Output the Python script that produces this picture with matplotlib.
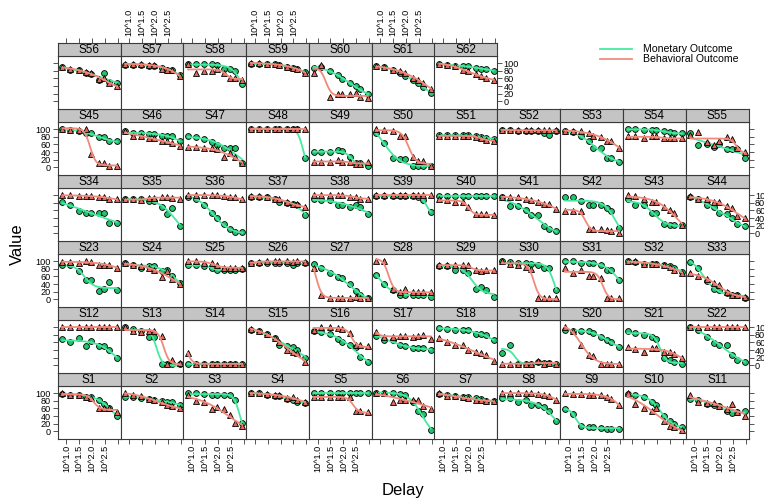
import numpy as np
import matplotlib
matplotlib.use('Agg')
import matplotlib.pyplot as plt
from matplotlib.lines import Line2D

plt.rcParams['font.family'] = ['Liberation Sans', 'DejaVu Sans']

# delays (days) at which each subject was asked
delay_days = [7, 14, 30, 60, 90, 180, 300, 450, 900]
subjects = ['S%d' % i for i in range(1, 63)]

x_ticks = [1.0, 1.5, 2.0, 2.5, 3.0]
x_ticklabels = ['10^1.0', '10^1.5', '10^2.0', '10^2.5', '']
y_ticks = [0, 20, 40, 60, 80, 100]

# monetary outcome (green circles)
money = {
    'S1': [98, 96, 96, 91, 91, 82, 72, 61, 41],
    'S2': [91, 89, 88, 85, 82, 79, 78, 76, 69],
    'S3': [100, 100, 98, 94, 96, 96, 94, 81, 21],
    'S4': [100, 100, 96, 92, 92, 85, 82, 76, 74],
    'S5': [100, 100, 100, 100, 100, 100, 100, 100, 100],
    'S6': [100, 100, 100, 98, 96, 76, 53, 46, 4],
    'S7': [98, 96, 92, 90, 89, 88, 86, 80, 79],
    'S8': [88, 88, 76, 82, 69, 68, 63, 53, 26],
    'S9': [59, 46, 15, 12, 11, 9, 6, 6, 6],
    'S10': [98, 94, 91, 76, 70, 39, 26, 19, 11],
    'S11': [85, 83, 72, 69, 67, 54, 48, 50, 53],
    'S12': [68, 62, 72, 50, 63, 50, 50, 40, 19],
    'S13': [100, 96, 89, 75, 75, 2, 2, 2, 2],
    'S14': [4, 2, 2, 2, 2, 2, 2, 2, 2],
    'S15': [93, 89, 82, 72, 54, 50, 47, 40, 19],
    'S16': [89, 87, 81, 69, 61, 52, 47, 21, 8],
    'S17': [78, 67, 65, 52, 50, 45, 45, 45, 40],
    'S18': [98, 96, 93, 93, 93, 82, 82, 80, 65],
    'S19': [32, 52, 4, 2, 2, 8, 5, 6, 2],
    'S20': [93, 91, 89, 89, 85, 74, 65, 61, 49],
    'S21': [89, 85, 80, 74, 69, 19, 14, 8, 2],
    'S22': [100, 93, 75, 58, 52, 54, 28, 15, 8],
    'S23': [89, 89, 75, 50, 50, 21, 26, 44, 25],
    'S24': [94, 91, 83, 87, 87, 74, 78, 61, 43],
    'S25': [89, 89, 87, 83, 76, 76, 76, 76, 80],
    'S26': [94, 94, 94, 96, 96, 94, 90, 94, 94],
    'S27': [92, 81, 69, 59, 57, 39, 21, 12, 4],
    'S28': [63, 39, 24, 11, 11, 12, 11, 11, 6],
    'S29': [88, 88, 76, 78, 69, 26, 32, 25, 6],
    'S30': [100, 98, 96, 94, 92, 89, 83, 81, 25],
    'S31': [100, 100, 94, 96, 96, 91, 76, 78, 50],
    'S32': [100, 98, 92, 92, 92, 90, 88, 82, 72],
    'S33': [98, 83, 47, 26, 24, 17, 11, 11, 4],
    'S34': [81, 75, 59, 52, 52, 52, 52, 27, 27],
    'S35': [91, 89, 89, 84, 84, 69, 50, 65, 18],
    'S36': [96, 91, 75, 52, 39, 23, 10, 4, 2],
    'S37': [96, 94, 94, 89, 82, 80, 76, 74, 49],
    'S38': [89, 87, 87, 75, 75, 69, 74, 68, 50],
    'S39': [98, 98, 98, 98, 98, 97, 96, 87, 56],
    'S40': [98, 98, 98, 98, 98, 98, 98, 98, 98],
    'S41': [96, 71, 72, 62, 49, 47, 18, 12, 6],
    'S42': [96, 94, 84, 75, 75, 75, 67, 58, 15],
    'S43': [89, 75, 75, 52, 52, 25, 21, 21, 21],
    'S44': [96, 89, 75, 68, 52, 50, 39, 25, 18],
    'S45': [100, 98, 95, 89, 89, 79, 79, 68, 68],
    'S46': [94, 89, 89, 87, 87, 83, 83, 81, 68],
    'S47': [81, 79, 75, 65, 58, 50, 50, 50, 10],
    'S48': [100, 100, 100, 100, 100, 100, 100, 100, 24],
    'S49': [39, 39, 39, 44, 43, 26, 11, 11, 4],
    'S50': [89, 63, 24, 22, 22, 2, 2, 2, 2],
    'S51': [84, 84, 84, 84, 84, 82, 80, 78, 75],
    'S52': [97, 97, 96, 96, 96, 94, 89, 85, 96],
    'S53': [94, 92, 83, 68, 50, 50, 24, 24, 15],
    'S54': [100, 100, 98, 98, 98, 94, 92, 89, 89],
    'S55': [89, 59, 61, 52, 62, 48, 48, 48, 24],
    'S56': [90, 82, 82, 73, 71, 57, 75, 50, 48],
    'S57': [95, 95, 95, 93, 93, 88, 83, 83, 68],
    'S58': [97, 97, 97, 97, 96, 86, 86, 79, 44],
    'S59': [98, 98, 97, 97, 94, 90, 88, 86, 76],
    'S60': [88, 90, 79, 68, 58, 48, 39, 31, 18],
    'S61': [92, 89, 82, 75, 66, 57, 48, 38, 22],
    'S62': [99, 95, 92, 92, 92, 88, 86, 86, 79],
}

# behavioral outcome (red triangles)
behav = {
    'S1': [100, 96, 96, 91, 87, 61, 61, 61, 50],
    'S2': [100, 96, 92, 85, 82, 76, 68, 65, 61],
    'S3': [96, 79, 76, 59, 63, 59, 43, 21, 15],
    'S4': [100, 100, 98, 94, 94, 88, 91, 82, 76],
    'S5': [89, 89, 89, 89, 89, 89, 53, 53, 51],
    'S6': [100, 100, 76, 82, 81, 82, 82, 66, 59],
    'S7': [100, 92, 92, 89, 87, 82, 82, 79, 79],
    'S8': [100, 100, 100, 100, 100, 99, 95, 93, 83],
    'S9': [100, 98, 98, 96, 96, 94, 91, 85, 68],
    'S10': [100, 72, 61, 54, 61, 26, 15, 12, 2],
    'S11': [96, 78, 74, 74, 65, 59, 72, 50, 41],
    'S12': [100, 100, 100, 100, 100, 100, 100, 100, 100],
    'S13': [100, 89, 87, 89, 89, 78, 4, 14, 6],
    'S14': [32, 4, 4, 4, 4, 4, 4, 4, 4],
    'S15': [96, 89, 82, 71, 61, 39, 34, 32, 8],
    'S16': [93, 100, 100, 98, 96, 84, 52, 52, 50],
    'S17': [87, 75, 75, 78, 78, 75, 78, 80, 69],
    'S18': [72, 61, 54, 52, 40, 34, 32, 27, 10],
    'S19': [4, 4, 4, 4, 4, 10, 4, 6, 4],
    'S20': [100, 89, 54, 27, 25, 4, 4, 4, 4],
    'S21': [47, 43, 36, 45, 45, 36, 36, 30, 19],
    'S22': [100, 100, 100, 100, 100, 100, 100, 100, 100],
    'S23': [98, 98, 96, 100, 98, 91, 91, 91, 83],
    'S24': [96, 89, 87, 81, 78, 59, 74, 52, 39],
    'S25': [100, 100, 96, 94, 89, 83, 83, 83, 83],
    'S26': [96, 98, 100, 100, 100, 100, 98, 100, 98],
    'S27': [82, 11, 4, 4, 4, 4, 6, 4, 4],
    'S28': [100, 100, 26, 19, 26, 18, 18, 18, 18],
    'S29': [89, 89, 89, 89, 89, 76, 74, 76, 78],
    'S30': [100, 92, 90, 85, 80, 4, 4, 4, 4],
    'S31': [82, 70, 78, 61, 61, 56, 4, 4, 4],
    'S32': [100, 100, 92, 92, 92, 89, 85, 78, 70],
    'S33': [68, 61, 52, 43, 37, 18, 12, 12, 6],
    'S34': [100, 100, 98, 98, 97, 96, 96, 91, 89],
    'S35': [89, 89, 87, 93, 93, 94, 96, 93, 91],
    'S36': [100, 100, 100, 100, 100, 97, 96, 94, 89],
    'S37': [97, 97, 96, 91, 89, 82, 76, 76, 68],
    'S38': [100, 100, 100, 100, 100, 96, 96, 91, 91],
    'S39': [100, 100, 100, 100, 100, 100, 100, 100, 100],
    'S40': [89, 87, 82, 81, 69, 50, 50, 50, 47],
    'S41': [96, 94, 94, 89, 87, 82, 78, 76, 63],
    'S42': [59, 59, 59, 10, 10, 10, 8, 6, 1],
    'S43': [100, 97, 89, 82, 82, 69, 62, 52, 21],
    'S44': [97, 91, 89, 81, 81, 71, 65, 46, 41],
    'S45': [100, 98, 98, 100, 34, 12, 11, 2, 2],
    'S46': [94, 82, 82, 76, 76, 69, 68, 63, 57],
    'S47': [54, 52, 50, 50, 48, 26, 37, 26, 11],
    'S48': [100, 100, 100, 100, 100, 100, 100, 100, 100],
    'S49': [15, 13, 13, 19, 15, 13, 8, 9, 13],
    'S50': [100, 98, 96, 81, 81, 26, 17, 17, 2],
    'S51': [82, 82, 82, 83, 83, 79, 76, 72, 70],
    'S52': [98, 98, 97, 97, 97, 97, 97, 97, 97],
    'S53': [96, 94, 96, 89, 83, 79, 70, 70, 50],
    'S54': [81, 81, 76, 81, 81, 76, 76, 76, 76],
    'S55': [85, 92, 65, 59, 68, 79, 75, 50, 39],
    'S56': [90, 84, 82, 77, 73, 58, 60, 48, 39],
    'S57': [97, 97, 99, 96, 96, 86, 83, 83, 66],
    'S58': [99, 73, 80, 79, 86, 75, 61, 62, 57],
    'S59': [100, 100, 99, 99, 95, 90, 88, 86, 75],
    'S60': [75, 95, 11, 18, 18, 18, 22, 11, 9],
    'S61': [92, 89, 82, 79, 75, 61, 57, 49, 33],
    'S62': [99, 95, 92, 82, 79, 71, 66, 61, 57],
}

GREEN_PT = '#1fc46c'
GREEN_LN = '#45eaa0'
RED_PT = '#e2685a'
RED_LN = '#f28a7c'
STRIP_COL = '#c4c4c4'
EDGE = '#3a3a3a'

W, H = 764, 501
LEFT, PW = 57.7, 62.8
TOP, ROWH, STRIP = 42.7, 66.0, 13.0
PH = ROWH - STRIP
XLIM = (0.663, 3.10)
YLIM = (-19.7, 119.7)


def fig_rect(x, y, w, h):
    return [x / W, 1 - (y + h) / H, w / W, h / H]


def fit_curve(x, y):
    # 4-parameter logistic in log10(delay), grid search + linear solve
    x0s = np.arange(0.0, 4.0, 0.02)
    ss = np.geomspace(0.3, 9, 60)
    X0, S = np.meshgrid(x0s, ss)
    X0 = X0.ravel()[:, None]
    S = S.ravel()[:, None]
    g = 1.0 / (1.0 + np.exp(S * (x[None, :] - X0)))
    u = 1.0 - g
    suu = (u * u).sum(1)
    suv = (u * g).sum(1)
    svv = (g * g).sum(1)
    suy = (u * y).sum(1)
    svy = (g * y).sum(1)
    det = suu * svv - suv ** 2 + 1e-9
    b = (svv * suy - suv * svy) / det
    t = (suu * svy - suv * suy) / det
    pred = b[:, None] * u + t[:, None] * g
    sse = ((pred - y) ** 2).sum(1)
    sse[(b < -20) | (b > 120) | (t < -20) | (t > 120)] = np.inf
    i = np.argmin(sse)
    xs = np.linspace(x.min(), x.max(), 120)
    gs = 1.0 / (1.0 + np.exp(S[i, 0] * (xs - X0[i, 0])))
    return xs, b[i] * (1 - gs) + t[i] * gs


def style_ticks(ax):
    ax.tick_params(direction='out', length=3.5, width=0.6, color=EDGE,
                   labelsize=6.6, pad=1.2)


fig = plt.figure(figsize=(W / 100, H / 100), dpi=100)
logx = np.log10(np.array(delay_days, dtype=float))

for k, s in enumerate(subjects):
    row = k // 11
    col = k % 11
    top_y = TOP + (5 - row) * ROWH
    left = LEFT + col * PW

    ax = fig.add_axes(fig_rect(left, top_y + STRIP, PW, PH))
    sax = fig.add_axes(fig_rect(left, top_y, PW, STRIP))

    for a in (ax, sax):
        for sp in a.spines.values():
            sp.set_color(EDGE)
            sp.set_linewidth(0.8)
        a.set_xlim(*XLIM)

    sax.set_facecolor(STRIP_COL)
    sax.set_yticks([])
    sax.set_xticks([])
    sax.text(0.5, 0.47, s, ha='center', va='center', fontsize=8.5,
             transform=sax.transAxes)

    ym = np.array(money[s], dtype=float)
    yb = np.array(behav[s], dtype=float)
    ax.plot(logx, ym, 'o', ms=4.2, mfc=GREEN_PT, mec='black', mew=0.6,
            zorder=3)
    xs, ys = fit_curve(logx, ym)
    ax.plot(xs, ys, color=GREEN_LN, lw=1.3, zorder=4)
    ax.plot(logx, yb, '^', ms=4.8, mfc=RED_PT, mec='black', mew=0.6,
            zorder=5)
    xs, ys = fit_curve(logx, yb)
    ax.plot(xs, ys, color=RED_LN, lw=1.3, zorder=6)
    ax.set_ylim(*YLIM)

    style_ticks(ax)
    style_ticks(sax)

    # x axis: bottom row and top row only
    if row == 0:
        ax.set_xticks(x_ticks)
        if col % 2 == 0:
            ax.set_xticklabels(x_ticklabels, rotation=90)
        else:
            ax.set_xticklabels([])
    else:
        ax.set_xticks([])
    if row == 5:
        sax.xaxis.set_ticks_position('top')
        sax.set_xticks(x_ticks)
        if col % 2 == 1:
            sax.set_xticklabels(x_ticklabels, rotation=90)
        else:
            sax.set_xticklabels([])

    # y axis: left column and right-most panel of each row
    last_col = 10 if row < 5 else 6
    ax.set_yticks([])
    if col == 0:
        ax.set_yticks(y_ticks)
        ax.yaxis.set_ticks_position('left')
        if row % 2 == 0:
            ax.set_yticklabels([str(v) for v in y_ticks])
        else:
            ax.set_yticklabels([])
    if col == last_col:
        ax.set_yticks(y_ticks)
        ax.yaxis.set_ticks_position('right')
        if row % 2 == 1:
            ax.set_yticklabels([str(v) for v in y_ticks])
        else:
            ax.set_yticklabels([])

# legend (top right, no frame)
for yy, c, lab in [(49, GREEN_LN, 'Monetary Outcome'),
                   (59, RED_LN, 'Behavioral Outcome')]:
    fig.add_artist(Line2D([600 / W, 632 / W], [1 - yy / H, 1 - yy / H],
                          color=c, lw=1.3))
    fig.text(643 / W, 1 - yy / H, lab, fontsize=7.6, va='center', ha='left')

fig.text(403 / W, 1 - 490 / H, 'Delay', fontsize=12, ha='center',
         va='center')
fig.text(17 / W, 1 - 244 / H, 'Value', fontsize=12, ha='center',
         va='center', rotation=90)

fig.savefig('out.png', dpi=100)
